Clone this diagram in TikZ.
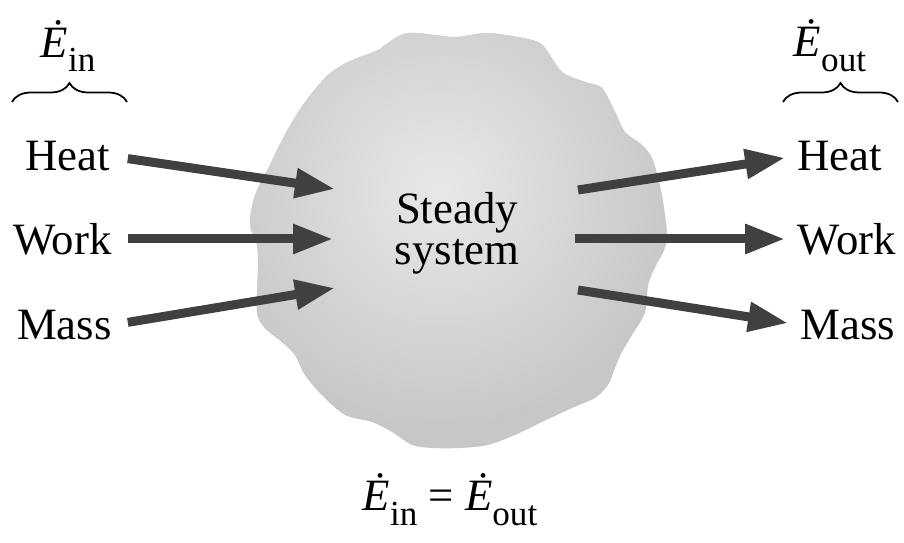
\documentclass[tikz,border=0pt]{standalone}
\usepackage{fontspec}
\setmainfont{Liberation Serif}
\newfontfamily\tnrfont{Liberation Serif}
\usetikzlibrary{arrows.meta,decorations.pathreplacing}

\definecolor{arrowgray}{HTML}{404040}
\newcommand\Erate[1]{\textit{Ė}\raisebox{-0.33em}{\fontsize{20}{20}\selectfont #1}}

\tikzset{
  lbl/.style={font=\tnrfont\fontsize{25.5}{30}\selectfont, inner sep=0pt},
  flow/.style={draw=arrowgray, line width=0.18cm,
    -{Triangle[length=0.8cm,width=0.56cm]}},
  bracetop/.style={decorate, decoration={brace, amplitude=0.38cm}, line width=1pt}
}

\begin{document}
\begin{tikzpicture}[x=0.02cm, y=-0.02cm]
    \useasboundingbox (0,0) rectangle (904,543);

    % Wavy system boundary
    \begin{scope}
    \clip plot[smooth cycle, tension=0.5] coordinates {
        (408,33) (455,37) (488,33) (532,40) (545,48) (562,72)
        (585,82) (602,88) (615,112) (625,132) (642,145) (652,158)
        (658,178) (663,202) (667,235) (664,250) (655,267) (648,285)
        (645,312) (632,335) (622,352) (615,368) (608,385) (595,398)
        (572,408) (542,422) (515,435) (488,445) (460,448) (432,448)
        (412,445) (392,432) (372,422) (345,415) (322,395) (305,375)
        (295,355) (282,342) (265,328) (257,312) (258,268) (257,245)
        (250,225) (253,202) (258,188) (270,165) (278,148) (292,122)
        (308,98) (328,75) (348,62) (378,50) (385,45)
    };
    \fill[black!22] (0,0) rectangle (904,543);
    \shade[inner color=black!9, outer color=black!22] (440,190) circle (240);
    \end{scope}

    % System label
    \node[lbl, font=\tnrfont\fontsize{25.5}{23.5}\selectfont, align=center] (sys) at (457,233) {Steady\\system};

    % Inflows
    \node[lbl, anchor=east] (hin) at (110,156) {Heat};
    \node[lbl, anchor=east] (win) at (112,239) {Work};
    \node[lbl, anchor=east] (min) at (112,325) {Mass};
    \coordinate (hinT) at (335,189);
    \coordinate (winT) at (333,239);
    \coordinate (minT) at (335,288);

    \draw[flow, shorten <=0.36cm] (hin.east) -- (hinT);
    \draw[flow, shorten <=0.32cm] (win.east) -- (winT);
    \draw[flow, shorten <=0.32cm] (min.east) -- (minT);

    % Outflows
    \node[lbl, anchor=west] (hout) at (797,156) {Heat};
    \node[lbl, anchor=west] (wout) at (797,239) {Work};
    \node[lbl, anchor=west] (mout) at (800,325) {Mass};
    \coordinate (houtS) at (578,190);
    \coordinate (woutS) at (575,239);
    \coordinate (moutS) at (578,290);

    \draw[flow, shorten >=0.24cm] (houtS) -- (hout.west);
    \draw[flow, shorten >=0.24cm] (woutS) -- (wout.west);
    \draw[flow, shorten >=0.24cm] (moutS) -- (mout.west);

    % Rate labels and braces
    \node[lbl] (ein) at (68,46) {\Erate{in}};
    \node[lbl] (eout) at (830,46) {\Erate{out}};
    \coordinate (binL) at (12,102);
    \coordinate (binR) at (127,102);
    \coordinate (boutL) at (783,102);
    \coordinate (boutR) at (898,102);
    \draw[bracetop] (binL) -- (binR);
    \draw[bracetop] (boutL) -- (boutR);

    % Balance
    \node[lbl] (bal) at (450,500) {\Erate{in} = \Erate{out}};

\end{tikzpicture}
\end{document}
